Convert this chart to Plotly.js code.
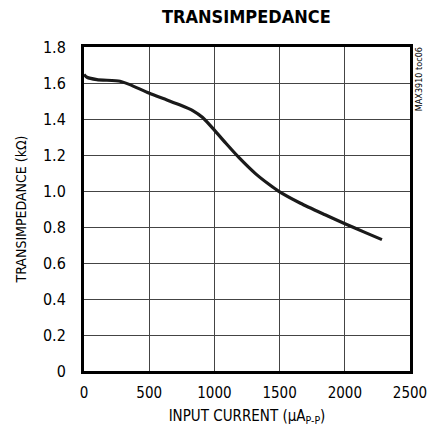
<!DOCTYPE html>
<html><head><meta charset="utf-8">
<script src="https://cdn.plot.ly/plotly-3.0.1.min.js"></script>
<style>html,body{margin:0;padding:0;background:#fff}#c{width:427px;height:431px}</style>
</head><body><div id="c"></div>
<script>
const inputCurrent = [0, 23, 99, 276, 352, 497, 632, 733, 834, 910, 1000, 1088, 1189, 1317, 1418, 1494, 1660, 1849, 2001, 2154, 2285];
const transimpedance = [1.647, 1.632, 1.619, 1.610, 1.591, 1.544, 1.507, 1.479, 1.447, 1.408, 1.338, 1.265, 1.185, 1.095, 1.037, 0.998, 0.932, 0.868, 0.818, 0.770, 0.73];
const xTicks = [0, 500, 1000, 1500, 2000, 2500];
const yTicks = [0, 0.2, 0.4, 0.6, 0.8, 1.0, 1.2, 1.4, 1.6, 1.8];
const yTickText = ['0', '0.2', '0.4', '0.6', '0.8', '1.0', '1.2', '1.4', '1.6', '1.8'];
const F = '"DejaVu Sans Condensed", "Liberation Sans Narrow", "Liberation Sans", Arial, sans-serif';
Plotly.newPlot('c', [{
  x: inputCurrent, y: transimpedance, type: 'scatter', mode: 'lines',
  line: {color: '#1a1a1a', width: 3.2, shape: 'spline', smoothing: 0.6}, hoverinfo: 'skip'
}], {
  width: 427, height: 431,
  margin: {l: 84, r: 17, t: 47, b: 60},
  paper_bgcolor: '#fff', plot_bgcolor: '#fff',
  showlegend: false,
  title: {text: '<b>TRANSIMPEDANCE</b>', font: {family: F, size: 18, color: '#000'}, x: 0.577, xanchor: 'center', y: 0.975, yanchor: 'top'},
  xaxis: {range: [0, 2500], tickvals: xTicks, ticktext: xTicks.map(String), showgrid: true, gridcolor: '#444', gridwidth: 1,
    showline: true, mirror: true, linecolor: '#000', linewidth: 3, ticks: '', zeroline: false, ticklabelstandoff: 6,
    ticklabeloverflow: 'allow',
    tickfont: {family: F, size: 15, color: '#000'},
    title: {text: 'INPUT CURRENT (μA<sub>P-P</sub>)', font: {family: F, size: 15, color: '#000'}, standoff: 10}},
  yaxis: {range: [0, 1.8], tickvals: yTicks, ticktext: yTickText, showgrid: true, gridcolor: '#444', gridwidth: 1,
    showline: true, mirror: true, linecolor: '#000', linewidth: 3, ticks: '', zeroline: false, ticklabelstandoff: 12,
    tickfont: {family: F, size: 16, color: '#000'},
    title: {text: 'TRANSIMPEDANCE (kΩ)', font: {family: F, size: 14, color: '#000'}, standoff: 14}},
  annotations: [{text: 'MAX3910 toc06', xref: 'paper', yref: 'paper', x: 1.03, y: 1.005, xanchor: 'center', yanchor: 'top',
    textangle: -90, showarrow: false, font: {family: F, size: 9, color: '#000'}}]
}, {staticPlot: true});
</script></body></html>
